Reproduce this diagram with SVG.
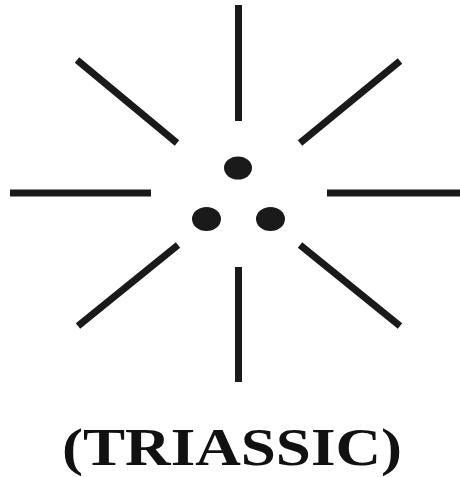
<svg xmlns="http://www.w3.org/2000/svg" width="460" height="477" viewBox="0 0 460 477">
<style>
.ray{stroke:#1a1a1a;stroke-width:7;fill:none}
.dot{fill:#1a1a1a}
.lbl{font-family:"Liberation Serif","Times New Roman",serif;font-weight:bold;font-size:53px;fill:#111}
</style>
<rect width="460" height="477" fill="#fff"/>
<g id="rays">
<line class="ray" x1="238.5" y1="5" x2="238.5" y2="121"/>
<line class="ray" x1="77" y1="60" x2="177" y2="143"/>
<line class="ray" x1="400" y1="61" x2="300" y2="143"/>
<line class="ray" x1="10" y1="193" x2="151" y2="193"/>
<line class="ray" x1="327" y1="193" x2="460" y2="193"/>
<line class="ray" x1="178" y1="245" x2="78" y2="326"/>
<line class="ray" x1="238.5" y1="267" x2="238.5" y2="382"/>
<line class="ray" x1="300" y1="245" x2="400" y2="326"/>
</g>
<g id="dots">
<ellipse class="dot" cx="238" cy="168" rx="14" ry="11.5"/>
<ellipse class="dot" cx="206.5" cy="219" rx="14.5" ry="12"/>
<ellipse class="dot" cx="270.5" cy="219" rx="14.5" ry="12"/>
</g>
<g id="label">
<text class="lbl" x="62" y="465" textLength="340" lengthAdjust="spacingAndGlyphs">(TRIASSIC)</text>
</g>
</svg>
